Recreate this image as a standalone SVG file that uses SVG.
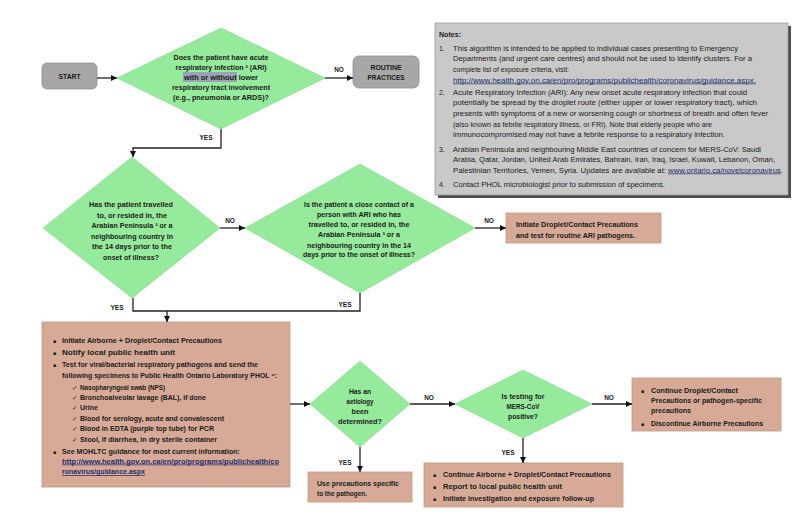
<svg xmlns="http://www.w3.org/2000/svg" width="800" height="526" viewBox="0 0 800 526">
<style>
text{font-family:"Liberation Sans",Arial,sans-serif;fill:#1a1a1a}
.b{font-weight:bold;font-size:7px}
.c{text-anchor:middle}
.n{font-size:6.9px}
.lab{font-weight:bold;font-size:6.5px;text-anchor:middle}
.dia{fill:#96ea9b;stroke:#8ad990;stroke-width:0.6}
.box{fill:#d6aa96;stroke:#c49a86;stroke-width:0.8}
.gray{fill:#a7a7a7;stroke:#8e8e8e;stroke-width:0.8}
.u{text-decoration:underline;fill:#1c2c6e}
.bul{font-family:"DejaVu Sans",sans-serif;font-size:5px}
.chk{font-family:"DejaVu Sans",sans-serif;font-size:6.5px}
.con{fill:none;stroke:#222;stroke-width:1.3}
</style>
<defs>
<marker id="ah" viewBox="0 0 10 10" refX="10" refY="5" markerWidth="6" markerHeight="6" markerUnits="userSpaceOnUse" orient="auto">
<path d="M0,0 L10,5 L0,10 z" fill="#111"/>
</marker>
</defs>
<rect width="800" height="526" fill="#ffffff"/>

<g id="notes">
<rect x="438" y="26" width="353" height="172" fill="#4d4d4d"/>
<rect x="435" y="23" width="353" height="172" fill="#c9c9c9" stroke="#9a9a9a" stroke-width="0.8"/>
<text class="b" x="439" y="36.5" textLength="22" lengthAdjust="spacingAndGlyphs">Notes:</text>
<text class="n" x="439" y="50.5">1.</text>
<text class="n" x="453" y="50.5" textLength="285" lengthAdjust="spacingAndGlyphs">This algorithm is intended to be applied to individual cases presenting to Emergency</text>
<text class="n" x="453" y="61" textLength="299" lengthAdjust="spacingAndGlyphs">Departments (and urgent care centres) and should not be used to identify clusters. For a</text>
<text class="n" x="453" y="71.5" textLength="116" lengthAdjust="spacingAndGlyphs">complete list of exposure criteria, visit:</text>
<text class="n u" x="453" y="82.5" textLength="303" lengthAdjust="spacingAndGlyphs">http://www.health.gov.on.ca/en/pro/programs/publichealth/coronavirus/guidance.aspx.</text>
<text class="n" x="439" y="94.5">2.</text>
<text class="n" x="453" y="94.5" textLength="294" lengthAdjust="spacingAndGlyphs">Acute Respiratory Infection (ARI): Any new onset acute respiratory infection that could</text>
<text class="n" x="453" y="105" textLength="304" lengthAdjust="spacingAndGlyphs">potentially be spread by the droplet route (either upper or lower respiratory tract), which</text>
<text class="n" x="453" y="116" textLength="315" lengthAdjust="spacingAndGlyphs">presents with symptoms of a new or worsening cough or shortness of breath and often fever</text>
<text class="n" x="453" y="126.5" textLength="259" lengthAdjust="spacingAndGlyphs">(also known as febrile respiratory illness, or FRI). Note that elderly people who are</text>
<text class="n" x="453" y="137" textLength="272" lengthAdjust="spacingAndGlyphs">immunocompromised may not have a febrile response to a respiratory infection.</text>
<text class="n" x="439" y="151.5">3.</text>
<text class="n" x="453" y="151.5" textLength="308" lengthAdjust="spacingAndGlyphs">Arabian Peninsula and neighbouring Middle East countries of concern for MERS-CoV: Saudi</text>
<text class="n" x="453" y="162" textLength="322" lengthAdjust="spacingAndGlyphs">Arabia, Qatar, Jordan, United Arab Emirates, Bahrain, Iran, Iraq, Israel, Kuwait, Lebanon, Oman,</text>
<text class="n" x="453" y="172.5" textLength="330" lengthAdjust="spacingAndGlyphs">Palestinian Territories, Yemen, Syria. Updates are available at: <tspan class="u">www.ontario.ca/novelcoronavirus</tspan>.</text>
<text class="n" x="439" y="186.5">4.</text>
<text class="n" x="453" y="186.5" textLength="212" lengthAdjust="spacingAndGlyphs">Contact PHOL microbiologist prior to submission of specimens.</text>
</g>

<g id="start">
<rect class="gray" x="42" y="63" width="55" height="26" rx="5"/>
<text class="b c" x="69.5" y="79" textLength="22" lengthAdjust="spacingAndGlyphs">START</text>
</g>

<g id="routine">
<rect class="gray" x="353" y="56" width="66" height="32" rx="6"/>
<text class="b c" x="386" y="69.5" textLength="31" lengthAdjust="spacingAndGlyphs">ROUTINE</text>
<text class="b c" x="386" y="80" textLength="37" lengthAdjust="spacingAndGlyphs">PRACTICES</text>
</g>

<g id="q-ari">
<polygon class="dia" points="221,28 325,78 221,129 117,78"/>
<rect x="183" y="72" width="54" height="10" fill="#9aa3b6"/>
<text class="b c" x="221" y="60" textLength="95" lengthAdjust="spacingAndGlyphs">Does the patient have acute</text>
<text class="b c" x="221" y="70" textLength="91" lengthAdjust="spacingAndGlyphs">respiratory infection ² (ARI)</text>
<text class="b c" x="221" y="80" textLength="74" lengthAdjust="spacingAndGlyphs">with or without lower</text>
<text class="b c" x="221" y="90" textLength="98" lengthAdjust="spacingAndGlyphs">respiratory tract involvement</text>
<text class="b c" x="221" y="100" textLength="96" lengthAdjust="spacingAndGlyphs">(e.g., pneumonia or ARDS)?</text>
</g>

<g id="q-travel">
<polygon class="dia" points="132,157 220,228 132,298 43,228"/>
<text class="b c" x="131" y="207" textLength="84" lengthAdjust="spacingAndGlyphs">Has the patient travelled</text>
<text class="b c" x="132" y="217.5" textLength="70" lengthAdjust="spacingAndGlyphs">to, or resided in, the</text>
<text class="b c" x="132" y="228" textLength="81" lengthAdjust="spacingAndGlyphs">Arabian Peninsula ³ or a</text>
<text class="b c" x="132" y="238.5" textLength="82" lengthAdjust="spacingAndGlyphs">neighbouring country in</text>
<text class="b c" x="132" y="249" textLength="80" lengthAdjust="spacingAndGlyphs">the 14 days prior to the</text>
<text class="b c" x="131" y="259.5" textLength="56" lengthAdjust="spacingAndGlyphs">onset of illness?</text>
</g>

<g id="q-contact">
<polygon class="dia" points="360,164 475,228 360,293 245,228"/>
<text class="b c" x="359" y="206.5" textLength="110" lengthAdjust="spacingAndGlyphs">Is the patient a close contact of a</text>
<text class="b c" x="359" y="216.5" textLength="84" lengthAdjust="spacingAndGlyphs">person with ARI who has</text>
<text class="b c" x="359" y="227" textLength="101" lengthAdjust="spacingAndGlyphs">travelled to, or resided in, the</text>
<text class="b c" x="359" y="237" textLength="82" lengthAdjust="spacingAndGlyphs">Arabian Peninsula ³ or a</text>
<text class="b c" x="359" y="247.5" textLength="104" lengthAdjust="spacingAndGlyphs">neighbouring country in the 14</text>
<text class="b c" x="359" y="257" textLength="112" lengthAdjust="spacingAndGlyphs">days prior to the onset of illness?</text>
</g>

<g id="routine-ari">
<rect class="box" x="506" y="213" width="155" height="30"/>
<text class="b" x="516" y="227" textLength="122" lengthAdjust="spacingAndGlyphs">Initiate Droplet/Contact Precautions</text>
<text class="b" x="516" y="237.5" textLength="119" lengthAdjust="spacingAndGlyphs">and test for routine ARI pathogens.</text>
</g>

<g id="airborne">
<rect class="box" x="42" y="322" width="248" height="165"/>
<text class="bul" x="53" y="342.5">▪</text>
<text class="b" x="62" y="342.5" textLength="160" lengthAdjust="spacingAndGlyphs">Initiate Airborne + Droplet/Contact Precautions</text>
<text class="bul" x="53" y="354.5">▪</text>
<text class="b" x="62" y="354.5" textLength="113" lengthAdjust="spacingAndGlyphs">Notify local public health unit</text>
<text class="bul" x="53" y="366.5">▪</text>
<text class="b" x="62" y="366.5" textLength="196" lengthAdjust="spacingAndGlyphs">Test for viral/bacterial respiratory pathogens and send the</text>
<text class="b" x="62" y="378" textLength="215" lengthAdjust="spacingAndGlyphs">following specimens to Public Health Ontario Laboratory PHOL ⁴:</text>
<text class="chk" x="72" y="389.5">✓</text>
<text class="b" x="80" y="389.5" textLength="85" lengthAdjust="spacingAndGlyphs">Nasopharyngeal swab (NPS)</text>
<text class="chk" x="72" y="399.5">✓</text>
<text class="b" x="80" y="399.5" textLength="126" lengthAdjust="spacingAndGlyphs">Bronchoalveolar lavage (BAL), if done</text>
<text class="chk" x="72" y="410">✓</text>
<text class="b" x="80" y="410" textLength="18" lengthAdjust="spacingAndGlyphs">Urine</text>
<text class="chk" x="72" y="420.5">✓</text>
<text class="b" x="80" y="420.5" textLength="144" lengthAdjust="spacingAndGlyphs">Blood for serology, acute and convalescent</text>
<text class="chk" x="72" y="431">✓</text>
<text class="b" x="80" y="431" textLength="134" lengthAdjust="spacingAndGlyphs">Blood in EDTA (purple top tube) for PCR</text>
<text class="chk" x="72" y="441.5">✓</text>
<text class="b" x="80" y="441.5" textLength="137" lengthAdjust="spacingAndGlyphs">Stool, if diarrhea, in dry sterile container</text>
<text class="bul" x="53" y="453.5">▪</text>
<text class="b" x="62" y="453.5" textLength="178" lengthAdjust="spacingAndGlyphs">See MOHLTC guidance for most current information:</text>
<text class="b u" x="62" y="463.5" textLength="217" lengthAdjust="spacingAndGlyphs">http://www.health.gov.on.ca/en/pro/programs/publichealth/co</text>
<text class="b u" x="62" y="474" textLength="83" lengthAdjust="spacingAndGlyphs">ronavirus/guidance.aspx</text>
</g>

<g id="q-aetiology">
<polygon class="dia" points="360,361 410,404 360,447 310,404"/>
<text class="b c" x="360" y="393.5" textLength="22" lengthAdjust="spacingAndGlyphs">Has an</text>
<text class="b c" x="360" y="403.5" textLength="27" lengthAdjust="spacingAndGlyphs">aetiology</text>
<text class="b c" x="360" y="413.5" textLength="17" lengthAdjust="spacingAndGlyphs">been</text>
<text class="b c" x="360" y="424" textLength="44" lengthAdjust="spacingAndGlyphs">determined?</text>
</g>

<g id="q-mers">
<polygon class="dia" points="523,370 592,404 523,438 455,404"/>
<text class="b c" x="523" y="398.5" textLength="43" lengthAdjust="spacingAndGlyphs">Is testing for</text>
<text class="b c" x="523" y="408.5" textLength="33" lengthAdjust="spacingAndGlyphs">MERS-CoV</text>
<text class="b c" x="523" y="418.5" textLength="30" lengthAdjust="spacingAndGlyphs">positive?</text>
</g>

<g id="specific">
<rect class="box" x="308" y="472" width="104" height="30"/>
<text class="b" x="317" y="485.5" textLength="82" lengthAdjust="spacingAndGlyphs">Use precautions specific</text>
<text class="b" x="317" y="496" textLength="50" lengthAdjust="spacingAndGlyphs">to the pathogen.</text>
</g>

<g id="discontinue">
<rect class="box" x="632" y="378" width="149" height="53"/>
<text class="bul" x="641" y="392.5">▪</text>
<text class="b" x="651" y="392.5" textLength="87" lengthAdjust="spacingAndGlyphs">Continue Droplet/Contact</text>
<text class="b" x="651" y="402.5" textLength="111" lengthAdjust="spacingAndGlyphs">Precautions or pathogen-specific</text>
<text class="b" x="651" y="412.5" textLength="40" lengthAdjust="spacingAndGlyphs">precautions</text>
<text class="bul" x="641" y="425.5">▪</text>
<text class="b" x="651" y="425.5" textLength="112" lengthAdjust="spacingAndGlyphs">Discontinue Airborne Precautions</text>
</g>

<g id="positive">
<rect class="box" x="424" y="463" width="199" height="44"/>
<text class="bul" x="433" y="476.5">▪</text>
<text class="b" x="443" y="476.5" textLength="168" lengthAdjust="spacingAndGlyphs">Continue Airborne + Droplet/Contact Precautions</text>
<text class="bul" x="433" y="488.5">▪</text>
<text class="b" x="443" y="488.5" textLength="119" lengthAdjust="spacingAndGlyphs">Report to local public health unit</text>
<text class="bul" x="433" y="500.5">▪</text>
<text class="b" x="443" y="500.5" textLength="151" lengthAdjust="spacingAndGlyphs">Initiate investigation and exposure follow-up</text>
</g>

<g id="connectors">
<line class="con" x1="97" y1="78" x2="117" y2="78" marker-end="url(#ah)"/>
<line class="con" x1="325" y1="78" x2="353" y2="78" marker-end="url(#ah)"/>
<text class="lab" x="339" y="72">NO</text>
<path class="con" d="M221,129 V148 H133 V157" marker-end="url(#ah)"/>
<text class="lab" x="206" y="140">YES</text>
<line class="con" x1="220" y1="228" x2="245" y2="228" marker-end="url(#ah)"/>
<text class="lab" x="230" y="223">NO</text>
<line class="con" x1="475" y1="228" x2="506" y2="228" marker-end="url(#ah)"/>
<text class="lab" x="489" y="223">NO</text>
<path class="con" d="M133,298 V311 H360 V293"/>
<line class="con" x1="167" y1="311" x2="167" y2="322" marker-end="url(#ah)"/>
<text class="lab" x="117" y="310">YES</text>
<text class="lab" x="345" y="307">YES</text>
<line class="con" x1="290" y1="404" x2="310" y2="404" marker-end="url(#ah)"/>
<line class="con" x1="410" y1="404" x2="455" y2="404" marker-end="url(#ah)"/>
<text class="lab" x="429" y="399.5">NO</text>
<line class="con" x1="592" y1="404" x2="632" y2="404" marker-end="url(#ah)"/>
<text class="lab" x="609" y="399.5">NO</text>
<line class="con" x1="523" y1="438" x2="523" y2="463" marker-end="url(#ah)"/>
<text class="lab" x="508" y="454.5">YES</text>
<line class="con" x1="360" y1="447" x2="360" y2="472" marker-end="url(#ah)"/>
<text class="lab" x="345" y="464.5">YES</text>
</g>
</svg>
